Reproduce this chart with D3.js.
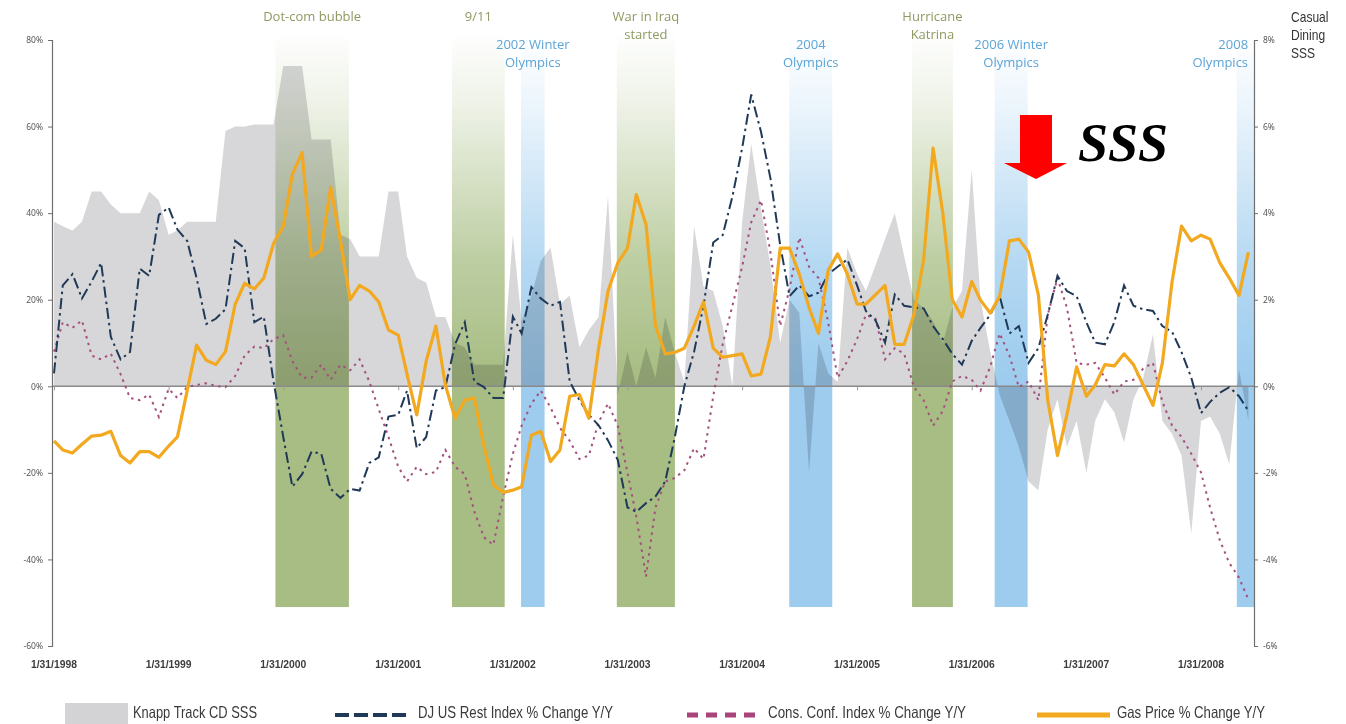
<!DOCTYPE html>
<html>
<head>
<meta charset="utf-8">
<script src="https://cdn.jsdelivr.net/npm/d3@7"></script>
<style>
  html, body { margin: 0; padding: 0; background: #ffffff; }
  svg { display: block; }
</style>
</head>
<body>
<svg id="chart" width="1346" height="724"></svg>
<script>
// ---------------- DATA ----------------
// monthly observations, first month = January 1998 (month-end dates)
const firstYear = 1998, firstMonth = 0;

// Knapp Track casual dining same-store sales (right axis, %)
const knappSSS = [
  3.8, 3.7, 3.6, 3.8, 4.5, 4.5, 4.2, 4.0, 4.0, 4.0, 4.5, 4.3,
  3.5, 3.6, 3.8, 3.8, 3.8, 3.8, 5.9, 6.0, 6.0, 6.05, 6.05, 6.05,
  7.4, 7.4, 7.4, 5.7, 5.7, 5.7, 3.5, 3.4, 3.0, 3.0, 3.0, 4.5,
  4.5, 3.0, 2.5, 2.4, 1.6, 1.6, 1.0, 0.9, 0.5, 0.5, 0.5, 0.5,
  3.5, 1.5, 2.1, 2.9, 3.2, 1.9, 2.1, 0.9, 1.3, 1.6, 4.4, -0.2,
  0.8, 0.0, 0.9, 0.2, 1.6, 0.8, 0.1, 3.7, 2.3, 2.2, 1.4, 0.0,
  3.8, 5.6, 4.1, 2.8, 1.0, 2.0, 1.7, -2.0, 1.0, 0.3, 0.1, 3.2,
  2.6, 2.2, 2.8, 3.4, 4.0, 3.0, 2.0, 1.8, 1.5, 1.0, 1.8, 2.2,
  5.0, 2.0, 0.8, -0.2, -0.8, -1.4, -2.2, -2.4, -1.0, -0.3, -1.4, -0.8,
  -2.0, -0.8, -0.3, -0.6, -1.3, -0.3, 0.2, 1.2, -0.8, -1.1, -1.6, -3.4,
  -0.8, -0.7, -1.1, -1.8, 0.4, -0.8
];

// DJ US Restaurant Index % change Y/Y (left axis)
const djRestIndex = [
  3, 23.3, 25.9, 20.3, 24.2, 28.5, 11.4, 6.2, 7.9, 27.2, 25.5, 39.6,
  41.3, 36.2, 33.6, 25, 14.4, 15.6, 17.8, 33.6, 31.9, 14.8, 16.1, 1.1,
  -11.7, -23.2, -20.3, -15.1, -15.6, -23.7, -25.8, -23.7, -24.1, -17.7, -16.4, -7,
  -6.6, -1, -14.3, -11.7, -1, -0.2, 9.7, 14.8, 1.1, -0.2, -2.7, -2.7,
  16.1, 12.2, 22.9, 20.3, 18.6, 19.5, 1.1, -3.2, -6.6, -9, -12.5, -17,
  -28, -29, -27, -25.5, -22, -12, 0, 8, 18.6, 33.2, 34.9, 43.8,
  55, 67.4, 58.8, 48.1, 32.7, 20.8, 23.3, 20.8, 21.6, 25.9, 27.6, 29.3,
  23.3, 17.4, 15.2, 10.1, 21.2, 18.6, 18.2, 18, 13.9, 10.9, 7.5, 5,
  10.5, 13.5, 16.5, 20.8, 12.2, 13.9, 5.4, 8.8, 16.5, 25.5, 22, 20.8,
  14.8, 10.1, 9.7, 14.8, 23.3, 18.6, 17.8, 17.4, 13.9, 12.6, 7.9, 2,
  -6.2, -3.6, -1.5, -0.2, -2.3, -5.7
];

// Consumer Confidence Index % change Y/Y (left axis)
const consConfIndex = [
  8, 14.8, 13.5, 15.2, 7.1, 6.2, 7.5, 2.8, -2.7, -3.2, -1.9, -7.1,
  -0.6, -2.7, -0.2, 0.3, 0.7, 0.1, -0.2, 2.4, 7.1, 9.2, 8.8, 10.9,
  11.8, 5.8, 2, 2, 5, 1.5, 5, 3.7, 6.2, 1.1, -5.3, -11.7,
  -18.6, -22, -18.6, -20.3, -19.8, -14.7, -18.6, -20.3, -28.9, -34.9, -36.6, -25.5,
  -15.6, -9.1, -4, -1, -4.9, -9.6, -12.6, -16.8, -16, -8.3, -4, -9.1,
  -20, -30, -44, -28, -22, -21.2, -19.4, -14.3, -16.8, -2.3, 9.7, 18.6,
  27.6, 37.9, 43, 31, 13.9, 22.5, 34.4, 27.6, 25, 14.8, 2, 5.8,
  10.9, 16.5, 15.6, 6.2, 8.8, 7.5, -0.2, -3.2, -9.1, -5.7, 1.1, 2.4,
  1.5, -1, 4.5, 12.2, 7.1, -0.2, 1.1, -3.2, 16.5, 25, 18.2, 5.4,
  5, 5.4, 2, -1.9, 1.1, 1.5, 4.1, 5.4, -3.6, -9.1, -11.7, -15.6,
  -19.9, -28, -35.6, -40.8, -44.2, -49.3
];

// Gas price % change Y/Y (left axis)
const gasPrice = [
  -12.6, -14.7, -15.4, -13.4, -11.5, -11.3, -10.4, -16, -17.7, -15.1, -15.1, -16.4,
  -13.8, -11.7, -1, 9.5, 6, 5, 8, 19, 23.8, 22.5, 25, 33,
  37, 49, 54, 30, 31.5, 46, 33.6, 20, 23.3, 22, 19.5, 13,
  11.8, 2.8, -6.6, 5.8, 13.9, 0.3, -7.4, -3.2, -2.7, -13.8, -22.8, -24.5,
  -24, -23.2, -11.3, -10.4, -17.4, -14.7, -2.3, -1.9, -7.4, 8.8, 22, 28.5,
  31.9, 44.3, 37.4, 14, 7.5, 7.8, 8.8, 13.9, 19.5, 8.8, 6.7, 7.1,
  7.5, 2.4, 2.8, 11.4, 31.9, 31.9, 25.9, 18.2, 12.2, 26.8, 30.6, 25.9,
  19, 19, 21.2, 23.3, 9.7, 9.7, 16.5, 29.3, 55, 40, 20, 16,
  24.2, 19.9, 16.9, 20.8, 33.6, 34, 31, 21.2, -3.2, -16, -6.6, 4.5,
  -2.3, 0.3, 5, 4.7, 7.5, 5, 0.3, -4.4, 5.4, 24.2, 37, 33.6,
  34.9, 34, 28.5, 25, 21, 31
];

const xTickLabels = ["1/31/1998","1/31/1999","1/31/2000","1/31/2001","1/31/2002",
  "1/31/2003","1/31/2004","1/31/2005","1/31/2006","1/31/2007","1/31/2008"];
const leftTicks = [80, 60, 40, 20, 0, -20, -40, -60];
const rightTicks = [8, 6, 4, 2, 0, -2, -4, -6];

const eventBands = [
  { label: ["Dot-com bubble"],          start: "2000-01-06", end: "2000-08-27", kind: "event" },
  { label: ["9/11"],                    start: "2001-07-21", end: "2002-01-05", kind: "event" },
  { label: ["2002 Winter", "Olympics"], start: "2002-02-26", end: "2002-05-12", kind: "olympics" },
  { label: ["War in Iraq", "started"],  start: "2002-12-28", end: "2003-07-01", kind: "event" },
  { label: ["2004", "Olympics"],        start: "2004-06-29", end: "2004-11-13", kind: "olympics" },
  { label: ["Hurricane", "Katrina"],    start: "2005-07-25", end: "2005-12-02", kind: "event" },
  { label: ["2006 Winter", "Olympics"], start: "2006-04-14", end: "2006-07-28", kind: "olympics" },
  { label: ["2008", "Olympics"],        start: "2008-05-24", end: "2008-07-18", kind: "olympics" }
];

const legendLabels = ["Knapp Track CD SSS", "DJ US Rest Index % Change Y/Y",
  "Cons. Conf. Index % Change Y/Y", "Gas Price % Change Y/Y"];
const rightAxisTitle = ["Casual", "Dining", "SSS"];
const annotationText = "SSS";

// ---------------- LAYOUT ----------------
const plotLeft = 52, plotRight = 1254, plotTop = 40, plotBottom = 646;
const bandTopValue = 82, bandBottomValue = -51;
const narrowFont = "'Liberation Sans Narrow', 'Arial Narrow', 'Liberation Sans', Arial, sans-serif";

const svg = d3.select("#chart");
const defs = svg.append("defs");

const parse = d3.utcParse("%Y-%m-%d");
const parseTick = d3.utcParse("%m/%d/%Y");
const months = knappSSS.map((_, i) => new Date(Date.UTC(firstYear, firstMonth + i + 1, 0)));

const x = d3.scaleUtc()
  .domain([parseTick("1/31/1998"), parseTick("1/31/2008")])
  .range([54, 1201]);
const yL = d3.scaleLinear().domain([-60, 80]).range([plotBottom, plotTop]);
const yR = d3.scaleLinear().domain([-6, 8]).range([plotBottom, plotTop]);

// gradients for bands
function makeGrad(id, color) {
  const g = defs.append("linearGradient").attr("id", id)
    .attr("x1", 0).attr("y1", 0).attr("x2", 0).attr("y2", 1);
  g.append("stop").attr("offset", 0).attr("stop-color", color).attr("stop-opacity", 0.0);
  g.append("stop").attr("offset", 0.12).attr("stop-color", color).attr("stop-opacity", 0.18);
  g.append("stop").attr("offset", 0.4).attr("stop-color", color).attr("stop-opacity", 0.75);
  g.append("stop").attr("offset", 0.6).attr("stop-color", color).attr("stop-opacity", 1);
  g.append("stop").attr("offset", 1).attr("stop-color", color).attr("stop-opacity", 1);
}
makeGrad("gEvent", "#a7bd83");
makeGrad("gOly", "#9dccee");

// ---- SSS area (right axis) ----
const sssData = knappSSS.map((v, i) => ({ date: months[i], v }));
svg.append("path")
  .datum(sssData)
  .attr("fill", "#d7d7d9")
  .attr("d", d3.area().x(d => x(d.date)).y0(yR(0)).y1(d => yR(d.v)));

// ---- event bands ----
const bandG = svg.append("g");
bandG.selectAll("rect").data(eventBands).join("rect")
  .attr("x", d => x(parse(d.start)))
  .attr("width", d => x(parse(d.end)) - x(parse(d.start)))
  .attr("y", yL(bandTopValue))
  .attr("height", yL(bandBottomValue) - yL(bandTopValue))
  .attr("fill", d => d.kind === "event" ? "url(#gEvent)" : "url(#gOly)")
  .style("mix-blend-mode", "multiply");

// band labels
const labelG = svg.append("g")
  .attr("font-family", "'Open Sans', 'Noto Sans', sans-serif")
  .attr("font-size", 13);
eventBands.forEach(b => {
  const x0 = x(parse(b.start)), x1 = x(parse(b.end));
  let cx = (x0 + x1) / 2, anchor = "middle";
  if (x1 > plotRight - 20) { cx = x1 - 6; anchor = "end"; }
  const baseY = b.kind === "event" ? 21 : 49;
  const t = labelG.append("text")
    .attr("text-anchor", anchor)
    .attr("fill", b.kind === "event" ? "#8d9a62" : "#5ca4d6");
  b.label.forEach((line, k) => {
    t.append("tspan").attr("x", cx).attr("y", baseY + k * 17.5).text(line);
  });
});

// ---- zero line with month ticks ----
svg.append("line")
  .attr("x1", plotLeft).attr("x2", plotRight)
  .attr("y1", yL(0)).attr("y2", yL(0))
  .attr("stroke", "#8a8a8a").attr("stroke-width", 1.5);
const tickDates = xTickLabels.map(parseTick);
const zeroAxis = svg.append("g")
  .attr("transform", `translate(0,${yL(0)})`)
  .call(d3.axisBottom(x).tickValues(tickDates).tickSize(4).tickFormat(""));
zeroAxis.select(".domain").remove();
zeroAxis.selectAll(".tick line").attr("stroke", "#999");

// ---- lines ----
const lineGen = arr => d3.line().x((d, i) => x(months[i])).y(d => yL(d))(arr);

svg.append("path").attr("d", lineGen(consConfIndex))
  .attr("fill", "none").attr("stroke", "#a4507f").attr("stroke-width", 2)
  .attr("stroke-dasharray", "2.5,4.5");

svg.append("path").attr("d", lineGen(djRestIndex))
  .attr("fill", "none").attr("stroke", "#1f3957").attr("stroke-width", 2)
  .attr("stroke-dasharray", "11,4,2.5,4");

svg.append("path").attr("d", lineGen(gasPrice))
  .attr("fill", "none").attr("stroke", "#f2a91f").attr("stroke-width", 3.2)
  .attr("stroke-linejoin", "round");

// ---- axes ----
function styleAxis(g) {
  g.select(".domain").attr("stroke", "#6f6f6f").attr("stroke-width", 1.2);
  g.selectAll(".tick line").attr("stroke", "#6f6f6f");
  g.selectAll(".tick text")
    .attr("font-family", "'Noto Sans', 'DejaVu Sans', sans-serif")
    .attr("font-size", 8.5).attr("fill", "#555");
}
svg.append("g").attr("transform", `translate(${plotLeft},0)`)
  .call(d3.axisLeft(yL).tickValues(leftTicks).tickSize(4).tickSizeOuter(4).tickPadding(5)
    .tickFormat(d => d + "%"))
  .call(styleAxis);
svg.append("g").attr("transform", `translate(${plotRight},0)`)
  .call(d3.axisRight(yR).tickValues(rightTicks).tickSize(4).tickSizeOuter(4).tickPadding(5)
    .tickFormat(d => d + "%"))
  .call(styleAxis);

// bottom date labels
svg.append("g").selectAll("text").data(xTickLabels).join("text")
  .attr("x", d => x(parseTick(d)))
  .attr("y", 668)
  .attr("text-anchor", "middle")
  .attr("font-family", narrowFont)
  .attr("font-weight", "bold")
  .attr("font-size", 11)
  .attr("textLength", 46)
  .attr("lengthAdjust", "spacingAndGlyphs")
  .attr("fill", "#3d3d3d")
  .text(d => d);

// right axis title (condensed)
const rt = svg.append("g").attr("transform", "translate(1291,0) scale(0.86,1)")
  .append("text")
  .attr("font-family", narrowFont)
  .attr("font-size", 14).attr("fill", "#333");
rightAxisTitle.forEach((s, k) => rt.append("tspan").attr("x", 0).attr("y", 22 + k * 18).text(s));

// ---- red arrow annotation ----
const arrow = svg.append("g").attr("transform", "translate(1036,115)");
arrow.append("path")
  .attr("d", "M-16,0 L16,0 L16,48 L31,48 L0,64 L-32,48 L-16,48 Z")
  .attr("fill", "#ff0000");
svg.append("text")
  .attr("x", 1078).attr("y", 161)
  .attr("font-family", "'Liberation Serif', 'Times New Roman', serif")
  .attr("font-style", "italic").attr("font-weight", "bold")
  .attr("font-size", 54).attr("fill", "#000")
  .text(annotationText);

// ---- legend ----
const lg = svg.append("g")
  .attr("font-family", narrowFont)
  .attr("font-size", 16.5).attr("fill", "#3a3a3a");
const legendX = [65, 335, 687, 1037];
const legendTextX = [133, 418, 768, 1117];
const legendTextW = [124, 195, 198, 148];
const ly = 715;
lg.append("rect").attr("x", legendX[0]).attr("y", 703).attr("width", 63).attr("height", 21).attr("fill", "#d3d3d6");
lg.append("line").attr("x1", legendX[1]).attr("x2", legendX[1] + 73).attr("y1", ly).attr("y2", ly)
  .attr("stroke", "#1f3957").attr("stroke-width", 4).attr("stroke-dasharray", "14,5");
lg.append("line").attr("x1", legendX[2]).attr("x2", legendX[2] + 73).attr("y1", ly).attr("y2", ly)
  .attr("stroke", "#a8447a").attr("stroke-width", 5).attr("stroke-dasharray", "11,8");
lg.append("line").attr("x1", legendX[3]).attr("x2", legendX[3] + 73).attr("y1", ly).attr("y2", ly)
  .attr("stroke", "#f2a91f").attr("stroke-width", 5);
legendLabels.forEach((s, k) => {
  lg.append("text").attr("x", legendTextX[k]).attr("y", 718)
    .attr("textLength", legendTextW[k]).attr("lengthAdjust", "spacingAndGlyphs")
    .text(s);
});
</script>
</body>
</html>
